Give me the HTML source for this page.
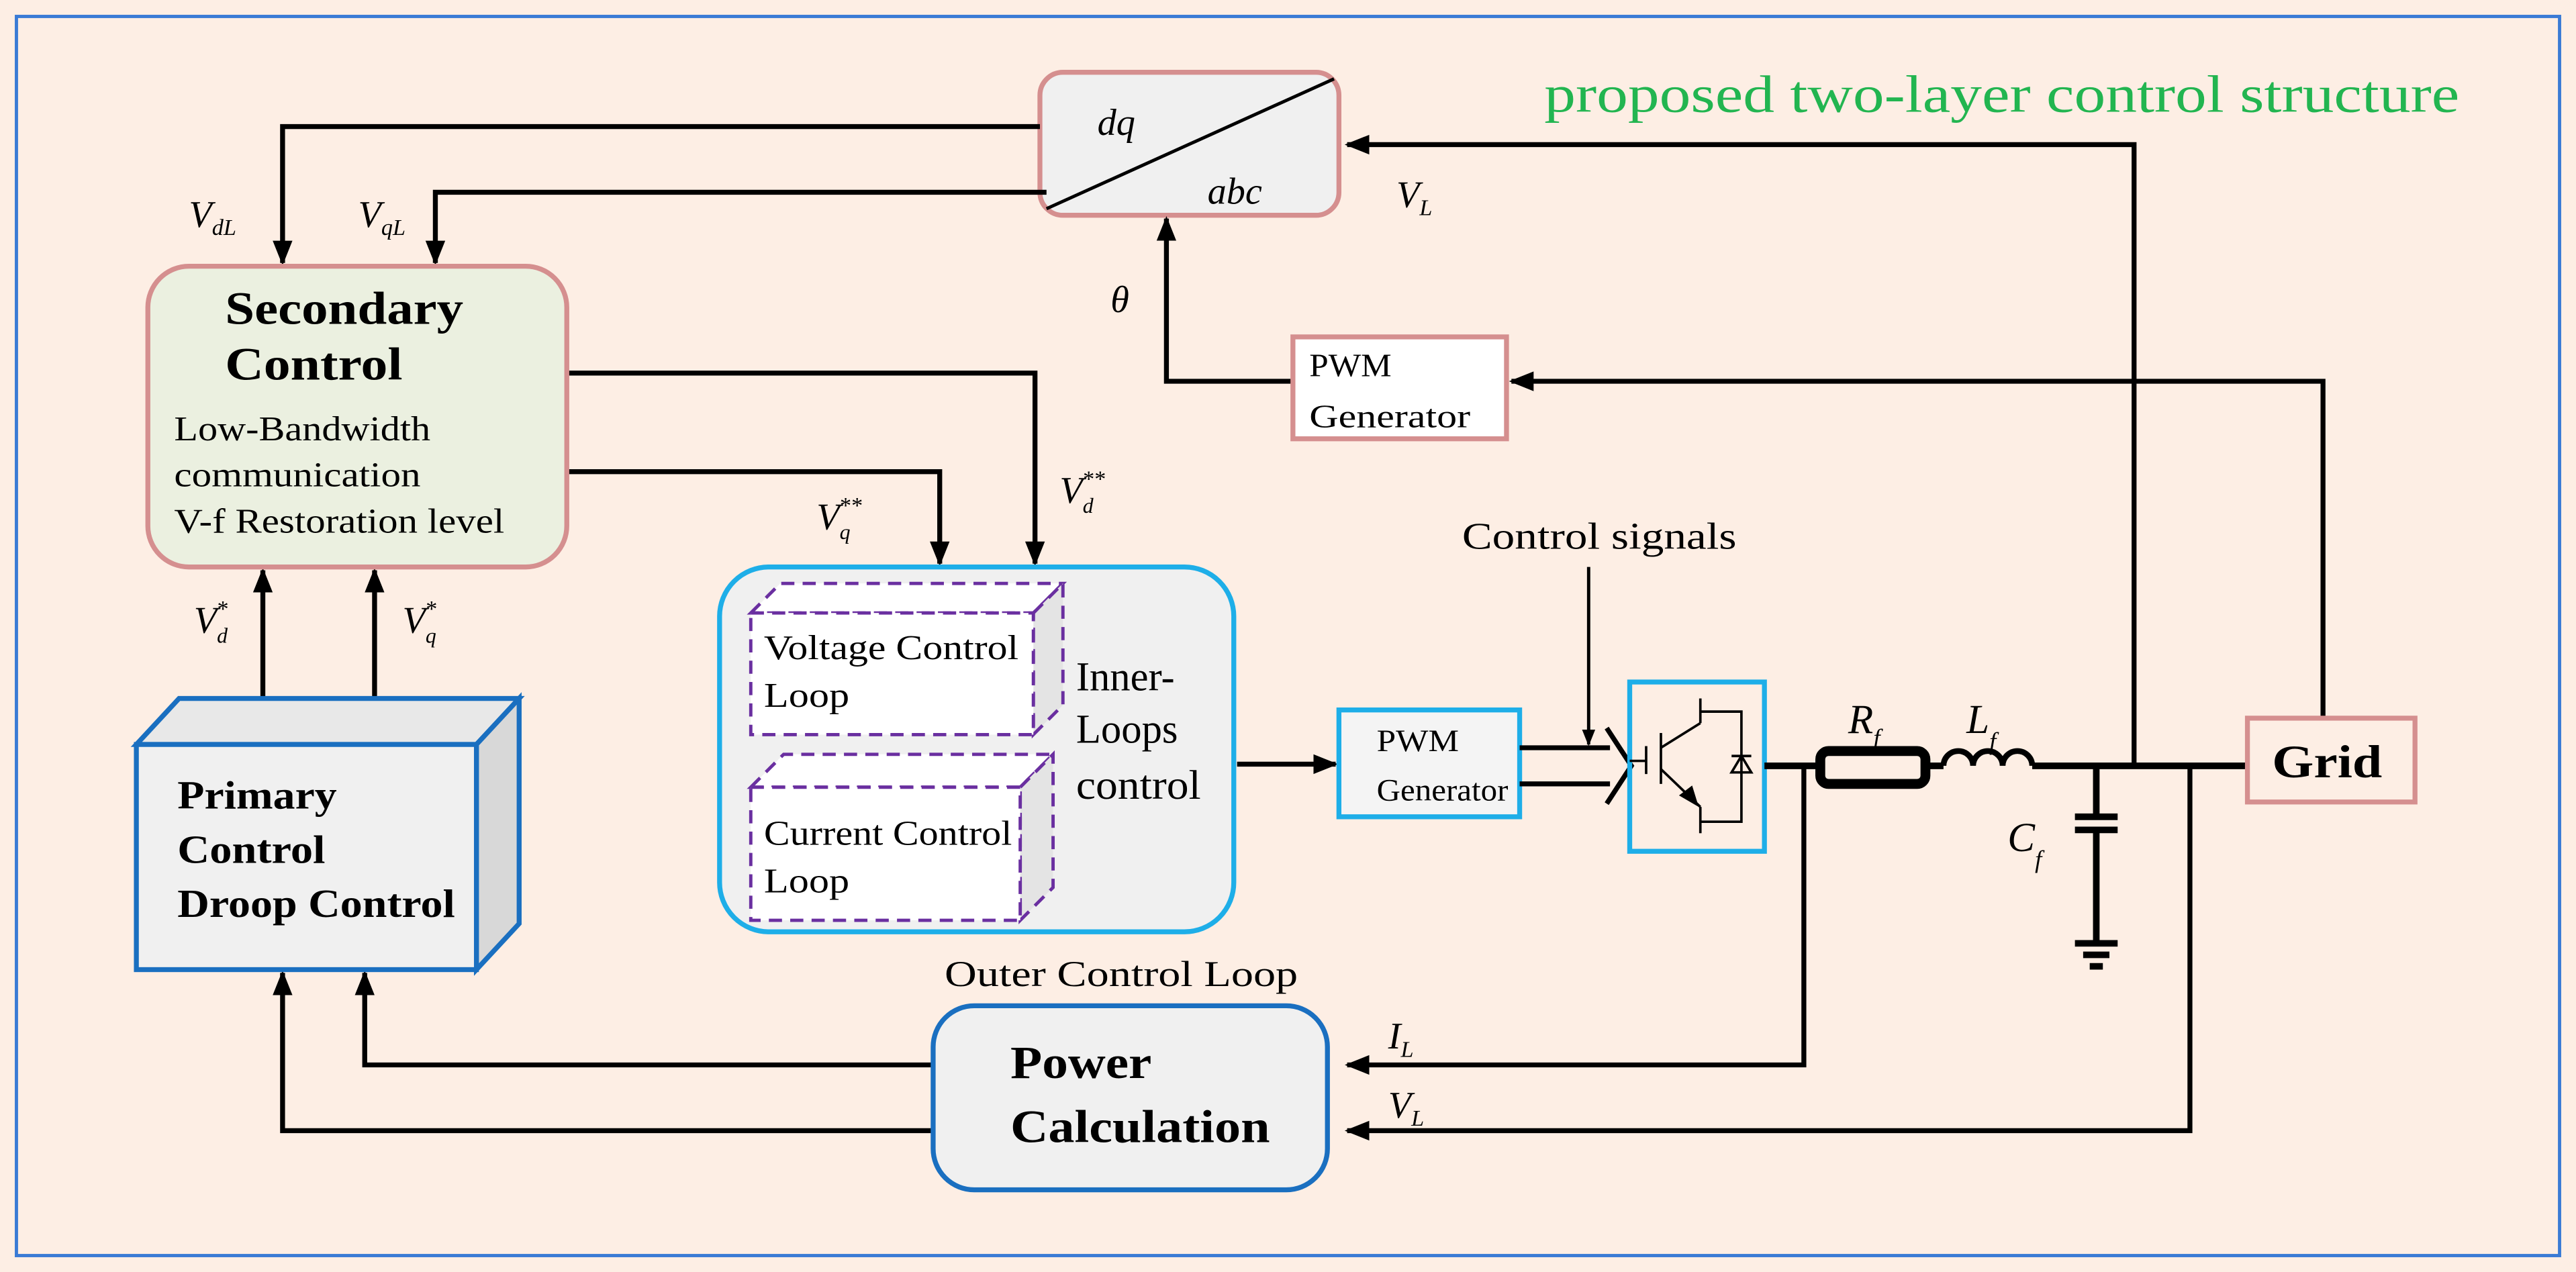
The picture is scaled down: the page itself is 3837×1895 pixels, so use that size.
<!DOCTYPE html>
<html><head><meta charset="utf-8"><style>
html,body{margin:0;padding:0;background:#fdeee4;}
svg{display:block;}
text{font-family:"Liberation Serif",serif;fill:#000;}
.b{font-weight:bold;}
.i{font-style:italic;}
</style></head><body>
<svg width="3837" height="1895" viewBox="0 0 1568 774" preserveAspectRatio="none" xmlns="http://www.w3.org/2000/svg">
<defs>
<marker id="a" viewBox="0 0 10 10" refX="9" refY="5" markerWidth="5" markerHeight="5" orient="auto" markerUnits="strokeWidth"><path d="M0,1 L10,5 L0,9 z" fill="#000"/></marker>
</defs>
<rect x="0" y="0" width="1568" height="774" fill="#fdeee4"/>
<rect x="10" y="10" width="1548" height="754" fill="none" stroke="#3a7bd5" stroke-width="2"/>
<text x="940" y="68" font-size="32" textLength="557" lengthAdjust="spacingAndGlyphs" style="fill:#22b550">proposed two-layer control structure</text>

<rect x="633" y="44" width="182" height="87" rx="14" fill="#f0f0f0" stroke="#d58f8f" stroke-width="3"/>
<line x1="637" y1="127" x2="812" y2="48" stroke="#000" stroke-width="2"/>
<text x="668" y="82" font-size="23" class="i">dq</text>
<text x="735" y="124" font-size="23" class="i">abc</text>

<g stroke="#000" stroke-width="3" fill="none">
<polyline points="633,77 172,77 172,160" marker-end="url(#a)"/>
<polyline points="637,117 265,117 265,160" marker-end="url(#a)"/>
<polyline points="1299,466 1299,88 820,88" marker-end="url(#a)"/>
<polyline points="1414,436 1414,232 920,232" marker-end="url(#a)"/>
<polyline points="787,232 710,232 710,133" marker-end="url(#a)"/>
<polyline points="345,227 630,227 630,343" marker-end="url(#a)"/>
<polyline points="345,287 572,287 572,343" marker-end="url(#a)"/>
<line x1="753" y1="465" x2="813" y2="465" marker-end="url(#a)"/>
<line x1="967" y1="345" x2="967" y2="453" stroke-width="2" marker-end="url(#a)"/>
<line x1="160" y1="425" x2="160" y2="347" marker-end="url(#a)"/>
<line x1="228" y1="425" x2="228" y2="347" marker-end="url(#a)"/>
<polyline points="568,648 222,648 222,592" marker-end="url(#a)"/>
<polyline points="568,688 172,688 172,592" marker-end="url(#a)"/>
<polyline points="1098,466 1098,648 820,648" marker-end="url(#a)"/>
<polyline points="1333,466 1333,688 820,688" marker-end="url(#a)"/>
</g>
<text x="115" y="138" font-size="23" class="i">V<tspan font-size="14" dy="5">dL</tspan></text>
<text x="218" y="138" font-size="23" class="i">V<tspan font-size="14" dy="5">qL</tspan></text>
<text x="850" y="126" font-size="23" class="i">V<tspan font-size="14" dy="5">L</tspan></text>
<text x="676" y="190" font-size="23" class="i">θ</text>
<text x="497" y="322" font-size="23" class="i">V<tspan font-size="13" dy="6">q</tspan><tspan font-size="14" dx="-7" dy="-16">**</tspan></text>
<text x="645" y="306" font-size="23" class="i">V<tspan font-size="13" dy="6">d</tspan><tspan font-size="14" dx="-7" dy="-16">**</tspan></text>
<text x="118" y="385" font-size="23" class="i">V<tspan font-size="13" dy="6">d</tspan><tspan font-size="14" dx="-7" dy="-16">*</tspan></text>
<text x="245" y="385" font-size="23" class="i">V<tspan font-size="13" dy="6">q</tspan><tspan font-size="14" dx="-7" dy="-16">*</tspan></text>
<text x="845" y="638" font-size="23" class="i">I<tspan font-size="14" dy="5">L</tspan></text>
<text x="845" y="680" font-size="23" class="i">V<tspan font-size="14" dy="5">L</tspan></text>

<rect x="90" y="162" width="255" height="183" rx="25" fill="#ebf0e0" stroke="#d58f8f" stroke-width="3"/>
<text x="137" y="197" font-size="28" class="b" textLength="145" lengthAdjust="spacingAndGlyphs">Secondary</text>
<text x="137" y="231" font-size="28" class="b" textLength="108" lengthAdjust="spacingAndGlyphs">Control</text>
<text x="106" y="268" font-size="21" textLength="156" lengthAdjust="spacingAndGlyphs">Low-Bandwidth</text>
<text x="106" y="296" font-size="21" textLength="150" lengthAdjust="spacingAndGlyphs">communication</text>
<text x="106" y="324" font-size="21" textLength="201" lengthAdjust="spacingAndGlyphs">V-f Restoration level</text>

<rect x="787" y="205" width="130" height="62" fill="#fff" stroke="#d58f8f" stroke-width="3"/>
<text x="797" y="229" font-size="20" textLength="50" lengthAdjust="spacingAndGlyphs">PWM</text>
<text x="797" y="260" font-size="20" textLength="98" lengthAdjust="spacingAndGlyphs">Generator</text>

<rect x="438" y="345" width="313" height="222" rx="30" fill="#f0f0f0" stroke="#1eaee8" stroke-width="3"/>
<g stroke="#6a2fa0" stroke-width="2" stroke-dasharray="8,5">
<polygon points="457,373 475,355 647,355 629,373" fill="#fff"/>
<polygon points="629,373 647,355 647,429 629,447" fill="#e4e4e4"/>
<rect x="457" y="373" width="172" height="74" fill="#fff"/>
<polygon points="457,479 477,459 641,459 621,479" fill="#fff"/>
<polygon points="621,479 641,459 641,540 621,560" fill="#e4e4e4"/>
<rect x="457" y="479" width="164" height="81" fill="#fff"/>
</g>
<text x="465" y="401" font-size="21" textLength="155" lengthAdjust="spacingAndGlyphs">Voltage Control</text>
<text x="465" y="430" font-size="21" textLength="52" lengthAdjust="spacingAndGlyphs">Loop</text>
<text x="465" y="514" font-size="21" textLength="151" lengthAdjust="spacingAndGlyphs">Current Control</text>
<text x="465" y="543" font-size="21" textLength="52" lengthAdjust="spacingAndGlyphs">Loop</text>
<text x="655" y="420" font-size="25" textLength="60" lengthAdjust="spacingAndGlyphs">Inner-</text>
<text x="655" y="452" font-size="25" textLength="62" lengthAdjust="spacingAndGlyphs">Loops</text>
<text x="655" y="486" font-size="25" textLength="76" lengthAdjust="spacingAndGlyphs">control</text>
<text x="890" y="334" font-size="23" textLength="167" lengthAdjust="spacingAndGlyphs">Control signals</text>

<rect x="815" y="432" width="110" height="65" fill="#f4f4f4" stroke="#1eaee8" stroke-width="3"/>
<text x="838" y="457" font-size="19" textLength="50" lengthAdjust="spacingAndGlyphs">PWM</text>
<text x="838" y="487" font-size="19" textLength="80" lengthAdjust="spacingAndGlyphs">Generator</text>
<g stroke="#000" stroke-width="3" fill="none">
<line x1="925" y1="455" x2="980" y2="455"/>
<line x1="925" y1="477" x2="980" y2="477"/>
<polyline points="978,443 993,466 978,489" stroke-width="3"/>
</g>

<rect x="992" y="415" width="82" height="103" fill="none" stroke="#1eaee8" stroke-width="3"/>
<g stroke="#000" stroke-width="1.5" fill="none">
<line x1="992" y1="463" x2="1002" y2="463"/>
<line x1="1002" y1="454" x2="1002" y2="471"/>
<line x1="1011" y1="446" x2="1011" y2="477"/>
<line x1="1011" y1="455" x2="1035" y2="440"/>
<line x1="1035" y1="425" x2="1035" y2="440"/>
<polyline points="1035,433 1060,433 1060,500 1035,500"/>
<line x1="1011" y1="468" x2="1035" y2="491"/>
<line x1="1035" y1="491" x2="1035" y2="507"/>
<line x1="1054" y1="460" x2="1066" y2="460"/>
<polygon points="1054,470 1066,470 1060,460"/>
</g>
<polygon points="1022,484 1034,491 1030,478" fill="#000"/>

<g stroke="#000" stroke-width="4" fill="none">
<line x1="1074" y1="466" x2="1108" y2="466"/>
<rect x="1108" y="457" width="64" height="20" rx="5" stroke-width="6" fill="#fdeee4"/>
<line x1="1172" y1="466" x2="1183" y2="466"/>
<path d="M1183,466 a9,9 0 0 1 18,0 a9,9 0 0 1 18,0 a9,9 0 0 1 18,0" stroke-width="3.5"/>
<line x1="1237" y1="466" x2="1368" y2="466"/>
<line x1="1276" y1="466" x2="1276" y2="497"/>
<line x1="1263" y1="497" x2="1289" y2="497"/>
<line x1="1263" y1="505" x2="1289" y2="505"/>
<line x1="1276" y1="505" x2="1276" y2="574"/>
<line x1="1263" y1="574" x2="1289" y2="574"/>
<line x1="1268" y1="581" x2="1284" y2="581"/>
<line x1="1272" y1="588" x2="1280" y2="588"/>
</g>
<text x="1125" y="446" font-size="25" class="i">R<tspan font-size="15" dy="8">f</tspan></text>
<text x="1197" y="446" font-size="25" class="i">L<tspan font-size="15" dy="10">f</tspan></text>
<text x="1222" y="518" font-size="25" class="i">C<tspan font-size="15" dy="10">f</tspan></text>

<rect x="1368" y="437" width="102" height="51" fill="#fdeee4" stroke="#d58f8f" stroke-width="3"/>
<text x="1383" y="473" font-size="28" class="b" textLength="67" lengthAdjust="spacingAndGlyphs">Grid</text>

<polygon points="83,453 109,425 316,425 290,453" fill="#e8e8e8" stroke="#1a6fc0" stroke-width="3"/>
<polygon points="290,453 316,425 316,562 290,590" fill="#d8d8d8" stroke="#1a6fc0" stroke-width="3"/>
<rect x="83" y="453" width="207" height="137" fill="#f0f0f0" stroke="#1a6fc0" stroke-width="3"/>
<text x="108" y="492" font-size="24" class="b" textLength="97" lengthAdjust="spacingAndGlyphs">Primary</text>
<text x="108" y="525" font-size="24" class="b" textLength="90" lengthAdjust="spacingAndGlyphs">Control</text>
<text x="108" y="558" font-size="24" class="b" textLength="169" lengthAdjust="spacingAndGlyphs">Droop Control</text>

<text x="575" y="600" font-size="22" textLength="215" lengthAdjust="spacingAndGlyphs">Outer Control Loop</text>
<rect x="568" y="612" width="240" height="112" rx="25" fill="#f0f0f0" stroke="#1a6fc0" stroke-width="3"/>
<text x="615" y="656" font-size="28" class="b" textLength="86" lengthAdjust="spacingAndGlyphs">Power</text>
<text x="615" y="695" font-size="28" class="b" textLength="158" lengthAdjust="spacingAndGlyphs">Calculation</text>
</svg>
</body></html>
